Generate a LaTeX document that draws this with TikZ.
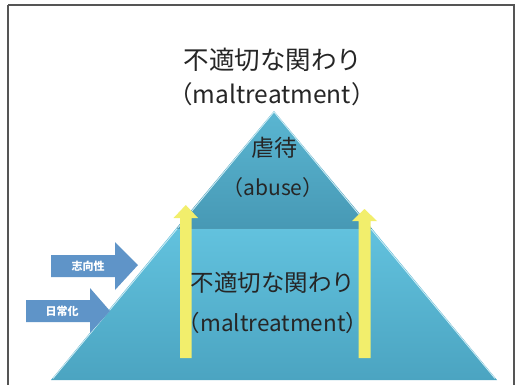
\documentclass[tikz,border=0pt]{standalone}
\usepackage{fontspec}
\newfontfamily\jp{Noto Sans CJK JP}
\definecolor{lowtop}{HTML}{62C2DE}
\definecolor{lowbot}{HTML}{4BA4C1}
\definecolor{uptop}{HTML}{5AB6D2}
\definecolor{upbot}{HTML}{4799B5}
\definecolor{sideblue}{HTML}{5F94C8}
\definecolor{yel}{HTML}{F2EE6C}
\definecolor{frame}{HTML}{555555}
\tikzset{
  lbl/.style={text=black!85, inner sep=0pt, anchor=center},
  sidearrow/.style={fill=sideblue, draw=none},
  uparrow/.style={fill=yel, draw=none},
}
\begin{document}
\begin{tikzpicture}[x=1pt,y=-1pt]
\useasboundingbox (0,0) rectangle (522,384);
\fill[white] (0,0) rectangle (522,384);
\begin{scope}
\clip (0,0) rectangle (522,384);
\draw[frame, line width=1.2pt] (8,5) -- (514,5) -- (514,400) (8,5) -- (8,400);
% lower part of pyramid
\shade[top color=lowtop, bottom color=lowbot] (176.5,228) -- (371.5,228) -- (497,380) -- (51,380) -- cycle;
% upper part
\shade[top color=uptop, bottom color=upbot] (274,111) -- (371.5,228) -- (176.5,228) -- cycle;
\draw[white!70!lowtop, line width=0.8pt] (53,378.5) -- (274,112) -- (495,378.5);
\draw[upbot!80!black, line width=0.6pt, opacity=0.5] (176.5,228) -- (371.5,228);
% side arrows
\fill[sidearrow] (51,255) -- (115,255) -- (115,242) -- (138,265) -- (115,290) -- (115,277) -- (51,277) -- cycle;
\fill[sidearrow] (26,300) -- (90,300) -- (90,288) -- (110,311) -- (90,333) -- (90,322) -- (26,322) -- cycle;
% yellow arrows
\fill[uparrow] (180,358) -- (191.5,358) -- (191.5,218) -- (198,218) -- (185.8,205) -- (173.5,218) -- (180,218) -- cycle;
\fill[uparrow] (358.5,358) -- (370.5,358) -- (370.5,221) -- (377,221) -- (364.5,209) -- (352,221) -- (358.5,221) -- cycle;
\end{scope}
% texts
\node[lbl, font=\jp\fontsize{25.5}{28}\selectfont] (t1) at (273,60) {不適切な関わり};
\node[lbl, font=\jp\fontsize{24.5}{27}\selectfont] (t2) at (272,94) {（maltreatment）};
\node[lbl, font=\jp\fontsize{23}{25}\selectfont] (a1) at (274,148) {虐待};
\node[lbl, font=\jp\fontsize{21}{23}\selectfont] (a2) at (273,188) {（abuse）};
\node[lbl, font=\jp\fontsize{23.5}{26}\selectfont] (m1) at (273,283) {不適切な関わり};
\node[lbl, font=\jp\fontsize{22.5}{25}\selectfont] (m2) at (273,323) {（maltreatment）};
\node[lbl, text=white, font=\jp\bfseries\fontsize{11}{12}\selectfont] (s1) at (88,266) {志向性};
\node[lbl, text=white, font=\jp\bfseries\fontsize{11}{12}\selectfont] (s2) at (62,311) {日常化};
\end{tikzpicture}
\end{document}
